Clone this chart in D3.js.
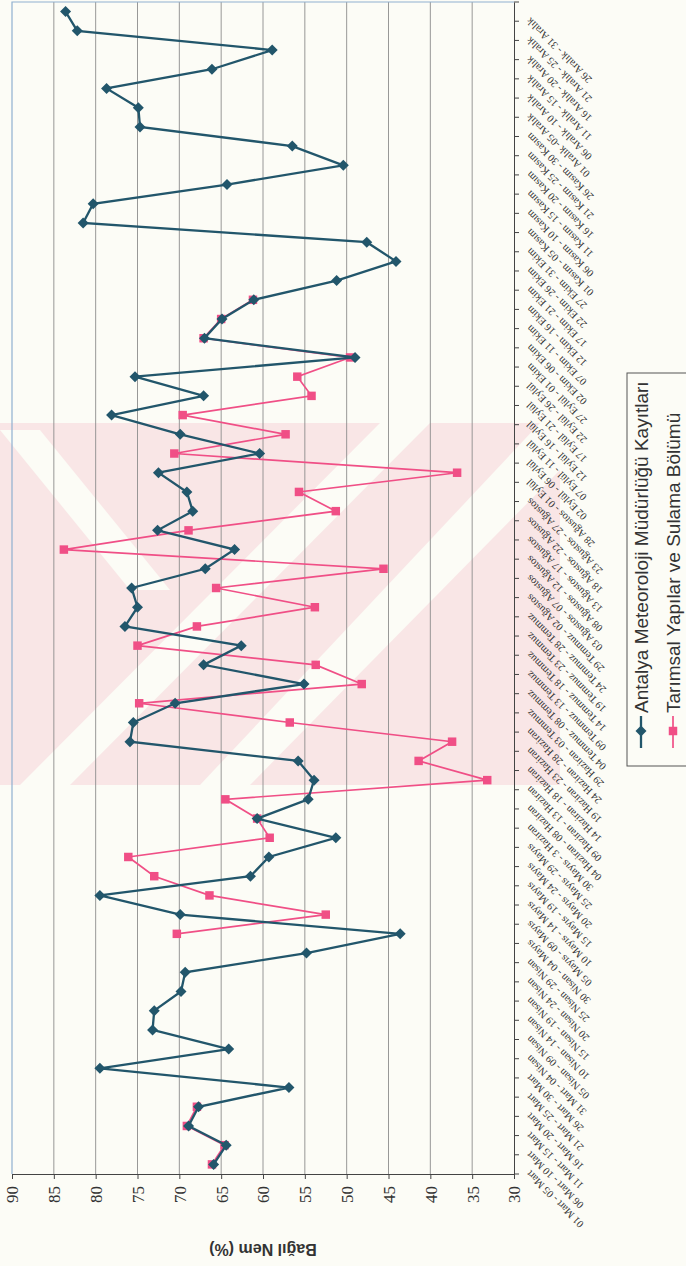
<!DOCTYPE html>
<html>
<head>
<meta charset="utf-8">
<style>
  body { margin:0; background:#fcfcf6; }
  svg { display:block; }
  .cat text { font: 10.5px "Liberation Serif", serif; fill:#333; }
  .val text { font: 17px "Liberation Serif", serif; fill:#333; }
</style>
</head>
<body>
<div id="chart"></div>
<script src="https://cdn.jsdelivr.net/npm/d3@7/dist/d3.min.js"></script>
<script>
const categories = [
  "01 Mart - 05 Mart","06 Mart - 10 Mart","11 Mart - 15 Mart","16 Mart - 20 Mart","21 Mart - 25 Mart","26 Mart - 30 Mart",
  "31 Mart - 04 Nisan","05 Nisan - 09 Nisan","10 Nisan - 14 Nisan","15 Nisan - 19 Nisan","20 Nisan - 24 Nisan","25 Nisan - 29 Nisan",
  "30 Nisan - 04 Mayıs","05 Mayıs - 09 Mayıs","10 Mayıs - 14 Mayıs","15 Mayıs - 19 Mayıs","20 Mayıs - 24 Mayıs","25 Mayıs - 29 Mayıs",
  "30 Mayıs - 3 Haziran","04 Haziran - 08 Haziran","09 Haziran - 13 Haziran","14 Haziran - 18 Haziran","19 Haziran - 23 Haziran","24 Haziran - 28 Haziran",
  "29 Haziran - 03 Temmuz","04 Temmuz - 08 Temmuz","09 Temmuz - 13 Temmuz","14 Temmuz - 18 Temmuz","19 Temmuz - 23 Temmuz","24 Temmuz - 28 Temmuz",
  "29 Temmuz - 02 Ağustos","03 Ağustos - 07 Ağustos","08 Ağustos - 12 Ağustos","13 Ağustos - 17 Ağustos","18 Ağustos - 22 Ağustos","23 Ağustos - 27 Ağustos",
  "28 Ağustos - 01 Eylül","02 Eylül - 06 Eylül","07 Eylül - 11 Eylül","12 Eylül - 16 Eylül","17 Eylül - 21 Eylül","22 Eylül - 26 Eylül",
  "27 Eylül - 01 Ekim","02 Ekim - 06 Ekim","07 Ekim - 11 Ekim","12 Ekim - 16 Ekim","17 Ekim - 21 Ekim","22 Ekim - 26 Ekim","27 Ekim - 31 Ekim",
  "01 Kasım - 05 Kasım","06 Kasım - 10 Kasım","11 Kasım - 15 Kasım","16 Kasım - 20 Kasım","21 Kasım - 25 Kasım","26 Kasım - 30 Kasım",
  "01 Aralık -05 Aralık","06 Aralık - 10 Aralık","11 Aralık - 15 Aralık","16 Aralık - 20 Aralık","21 Aralık - 25 Aralık","26 Aralık - 31 Aralık"
];

// Antalya Meteoroloji Müdürlüğü Kayıtları
const meteoroloji = [
  65.9, 64.4, 68.9, 67.7, 56.9, 79.5, 64.1, 73.2, 73.0, 69.8, 69.3, 54.8,
  43.6, 69.9, 79.5, 61.5, 59.3, 51.3, 60.7, 54.6, 53.9, 55.8, 75.9, 75.5,
  70.5, 55.1, 67.1, 62.6, 76.5, 75.0, 75.7, 66.9, 63.4, 72.6, 68.4, 69.1,
  72.5, 60.4, 69.9, 78.1, 67.1, 75.3, 49.0, 67.0, 64.9, 61.1, 51.2, 44.1,
  47.6, 81.5, 80.3, 64.3, 50.4, 56.5, 74.7, 74.9, 78.7, 66.1, 58.9, 82.2, 83.6
];

// Tarımsal Yapılar ve Sulama Bölümü
const tarimsal = [
  66.1, 64.6, 69.1, 67.9, null, null, null, null, null, null, null, null,
  70.3, 52.5, 66.4, 73.0, 76.1, 59.2, 60.7, 64.5, 33.2, 41.4, 37.4, 56.8,
  74.8, 48.2, 53.7, 75.0, 67.9, 53.8, 65.6, 45.6, 83.8, 68.9, 51.3, 55.7,
  36.8, 70.6, 57.3, 69.6, 54.2, 55.9, 49.6, 67.1, 65.0, 61.2, null, null,
  null, null, null, null, null, null, null, null, null, null, null, null, null
];

const valueTicks = [90, 85, 80, 75, 70, 65, 60, 55, 50, 45, 40, 35, 30];
const seriesNames = ["Antalya Meteoroloji Müdürlüğü Kayıtları", "Tarımsal Yapılar ve Sulama Bölümü"];

const width = 686, height = 1266;
const plot = {left: 12, right: 514, top: 2, bottom: 1174};
const blue = "#22566b", pink = "#f04f86";

const svg = d3.select("#chart").append("svg")
    .attr("width", width).attr("height", height);

svg.append("rect").attr("width", width).attr("height", height).attr("fill", "#fcfcf6");

// faint watermark behind the chart
const wm = svg.append("g").attr("opacity", 0.42);
wm.append("rect").attr("x", 0).attr("y", 423).attr("width", 560).attr("height", 362).attr("fill", "#f6c9d2");
const stripes = [
  [[0,430],[40,430],[170,590],[130,590]],
  [[20,785],[70,785],[430,423],[380,423]],
  [[200,785],[250,785],[560,470],[560,423],[540,423]]
];
stripes.forEach(p => wm.append("polygon").attr("points", p.map(d => d.join(",")).join(" ")).attr("fill", "#fcfcf6"));

const x = d3.scaleLinear().domain([90, 30]).range([plot.left, plot.right]);
const y = d3.scaleBand().domain(categories).range([plot.bottom, plot.top]);
const cy = c => y(c) + y.bandwidth() / 2;

// gridlines
svg.append("g").selectAll("line").data(valueTicks.slice(1, -1)).join("line")
    .attr("x1", d => x(d)).attr("x2", d => x(d))
    .attr("y1", plot.top).attr("y2", plot.bottom)
    .attr("stroke", "#8c8c8c").attr("stroke-width", 0.9);

// plot border (top, left)
svg.append("path")
    .attr("d", `M${plot.left},${plot.bottom}V${plot.top}H${plot.right}`)
    .attr("fill", "none").attr("stroke", "#8fb0d0").attr("stroke-width", 1.2);

// value axis (bottom)
const valAxis = svg.append("g").attr("class", "val")
    .attr("transform", `translate(0,${plot.bottom})`)
    .call(d3.axisBottom(x).tickValues(valueTicks).tickSize(5).tickFormat(d3.format("d")));
valAxis.select(".domain").attr("stroke", "#444");
valAxis.selectAll(".tick line").attr("stroke", "#444");
valAxis.selectAll("text")
    .attr("x", 0).attr("y", 0).attr("dy", "0.35em")
    .attr("text-anchor", "end")
    .attr("transform", "translate(0,12) rotate(-90)");

svg.append("text")
    .attr("transform", `translate(${(plot.left + plot.right) / 2},1250) rotate(180)`)
    .attr("text-anchor", "middle").attr("dy", "0.35em")
    .style("font", "bold 16px 'Liberation Sans', Arial, sans-serif").attr("fill", "#333")
    .text("Bağıl Nem (%)");

// category axis (right side)
const catAxis = svg.append("g").attr("class", "cat")
    .attr("transform", `translate(${plot.right},0)`)
    .call(d3.axisRight(y).tickSize(0).tickPadding(0));
catAxis.select(".domain").attr("stroke", "#444");
catAxis.selectAll("text")
    .attr("x", 0).attr("y", 0).attr("dy", "0.35em")
    .attr("text-anchor", "end")
    .attr("transform", "translate(14,8) rotate(-135)");
catAxis.append("g").selectAll("line").data(d3.range(categories.length + 1)).join("line")
    .attr("x1", 0).attr("x2", 5)
    .attr("y1", i => plot.bottom - i * y.step()).attr("y2", i => plot.bottom - i * y.step())
    .attr("stroke", "#444");

// series
const line = d3.line()
    .defined(d => d.v != null)
    .x(d => x(d.v)).y(d => cy(d.c));

const pinkData = categories.map((c, i) => ({c, v: tarimsal[i]}));
const blueData = categories.map((c, i) => ({c, v: meteoroloji[i]}));

const diamond = "M0,-5.5L5.5,0L0,5.5L-5.5,0Z";
const square = d3.symbol(d3.symbolSquare, 72)();

svg.append("path").datum(pinkData).attr("d", line)
    .attr("fill", "none").attr("stroke", pink).attr("stroke-width", 1.7);
svg.append("g").selectAll("path").data(pinkData.filter(d => d.v != null)).join("path")
    .attr("d", square).attr("fill", pink)
    .attr("transform", d => `translate(${x(d.v)},${cy(d.c)})`);

svg.append("path").datum(blueData).attr("d", line)
    .attr("fill", "none").attr("stroke", blue).attr("stroke-width", 2.3);
svg.append("g").selectAll("path").data(blueData).join("path")
    .attr("d", diamond).attr("fill", blue)
    .attr("transform", d => `translate(${x(d.v)},${cy(d.c)})`);

// legend
const lg = svg.append("g");
lg.append("rect").attr("x", 627).attr("y", 373).attr("width", 80).attr("height", 393)
    .attr("fill", "#fcfcf6").attr("stroke", "#555").attr("stroke-width", 1);
[blue, pink].forEach((col, i) => {
  const lx = 641 + i * 32;
  lg.append("line").attr("x1", lx).attr("x2", lx).attr("y1", 716).attr("y2", 748)
      .attr("stroke", col).attr("stroke-width", i ? 1.7 : 2.3);
  lg.append("path").attr("d", i ? square : diamond).attr("fill", col)
      .attr("transform", `translate(${lx},731)`);
  lg.append("text")
      .attr("transform", `translate(${lx},713) rotate(-90)`)
      .attr("dy", "0.35em")
      .style("font", "19px 'Liberation Sans', Arial, sans-serif").attr("fill", "#333")
      .text(seriesNames[i]);
});
</script>
</body>
</html>
